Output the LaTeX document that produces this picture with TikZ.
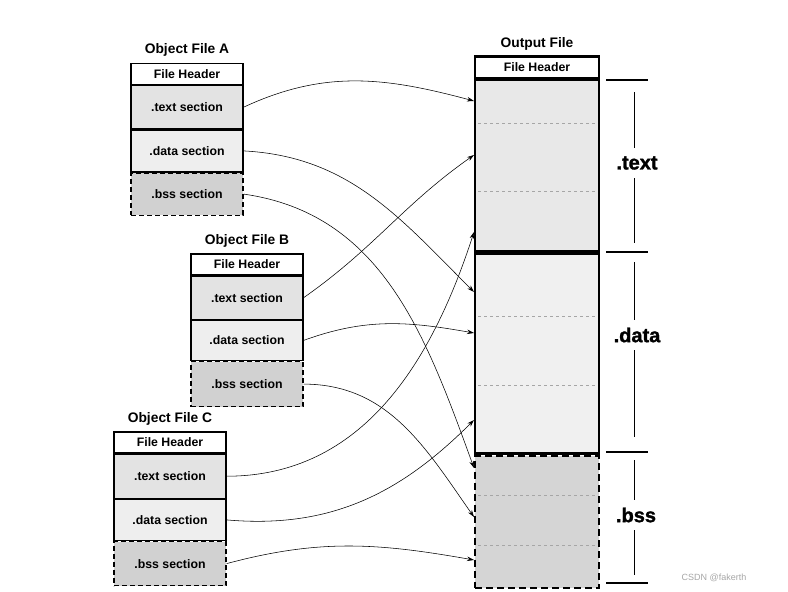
\documentclass[tikz,border=0pt]{standalone}
\usepackage{fontspec}
\setmainfont{Liberation Sans}
\newfontfamily\heavyfont[BoldFeatures={FakeBold=1.5}]{Liberation Sans}
\usetikzlibrary{positioning,arrows.meta}

\tikzset{
  hdr/.style={draw, line width=1.2pt, fill=white, minimum width=112pt, minimum height=21pt,
              inner sep=0pt, font=\bfseries\fontsize{12.3}{13}\selectfont},
  txt/.style={hdr, fill=gray!22, minimum height=43pt},
  dat/.style={hdr, fill=gray!13, minimum height=42pt},
  bss/.style={hdr, fill=gray!36, dash pattern=on 5pt off 3pt, minimum height=42pt},
  outbox/.style={hdr, line width=2.2pt, minimum width=124pt},
  ttl/.style={font=\bfseries\fontsize{13.8}{15}\selectfont},
  big/.style={fill=white, inner xsep=1pt, inner ysep=8pt, font=\heavyfont\bfseries\fontsize{20}{22}\selectfont},
  sep/.style={gray!70, dashed, thin},
  link/.style={-{Stealth[length=7pt, width=4.5pt]}, line width=0.55pt},
}

\begin{document}
\begin{tikzpicture}[x=1pt,y=-1pt]
    \useasboundingbox (0,0) rectangle (788,592);

    % object file A
    \node[hdr] (A-h) at (187,74) {File Header};
    \node[txt, below=0pt of A-h] (A-t) {.text section};
    \node[dat, below=0pt of A-t] (A-d) {.data section};
    \node[bss, below=0pt of A-d] (A-b) {.bss section};
    \node[ttl, above=3pt of A-h] (A) {Object File A};

    % object file B
    \node[hdr] (B-h) at (247,264.5) {File Header};
    \node[txt, below=0pt of B-h] (B-t) {.text section};
    \node[dat, below=0pt of B-t, minimum height=40pt] (B-d) {.data section};
    \node[bss, below=0pt of B-d, minimum height=45pt] (B-b) {.bss section};
    \node[ttl, above=3pt of B-h] (B) {Object File B};

    % object file C
    \node[hdr] (C-h) at (170,442.5) {File Header};
    \node[txt, below=0pt of C-h, minimum height=44pt] (C-t) {.text section};
    \node[dat, below=0pt of C-t, minimum height=41pt] (C-d) {.data section};
    \node[bss, below=0pt of C-d, minimum height=44pt] (C-b) {.bss section};
    \node[ttl, above=3pt of C-h] (C) {Object File C};

    % output file
    \node[outbox] (O-h) at (537,67.5) {File Header};
    \node[outbox, below=0pt of O-h, fill=gray!18, minimum height=171pt] (O-t) {};
    \node[outbox, below=0pt of O-t, fill=gray!12, minimum height=200pt] (O-d) {};
    \node[outbox, below=0pt of O-d, fill=gray!33, minimum height=132pt,
          dash pattern=on 7pt off 4pt] (O-b) {};
    \node[ttl, above=2pt of O-h] (O) {Output File};
    \draw[outbox, fill=none] (O-h.north west) -- (O-h.north east);

    \draw[sep] (478,123) -- (597,123);
    \draw[sep] (478,191) -- (597,191);
    \draw[sep] (478,316) -- (597,316);
    \draw[sep] (478,385) -- (597,385);
    \draw[sep] (478,495) -- (597,495);
    \draw[sep] (478,545) -- (597,545);

    % brackets
    \draw[line width=1.3pt] (606,80) -- (648,80);
    \draw[line width=1.3pt] (606,252) -- (648,252);
    \draw[line width=1.3pt] (606,452) -- (648,452);
    \draw[line width=1.3pt] (606,583) -- (648,583);
    \draw[line width=0.9pt] (634,92) -- (634,243);
    \draw[line width=0.9pt] (634,262) -- (634,437);
    \draw[line width=0.9pt] (634,460) -- (634,575);
    \node[big] (L-t) at (637,163) {.text};
    \node[big] (L-d) at (637,335) {.data};
    \node[big] (L-b) at (636,515) {.bss};

    % arrow ends
    \coordinate (e1) at (474,101);
    \coordinate (e2) at (474,155);
    \coordinate (e3) at (474,232);
    \coordinate (e4) at (474,292);
    \coordinate (e5) at (474,333);
    \coordinate (e6) at (474,420);
    \coordinate (e7) at (474,468);
    \coordinate (e8) at (474,517);
    \coordinate (e9) at (474,560);

    \draw[link] (A-t.east) to[out=25, in=165] (e1);
    \draw[link] (A-d.east) to[out=-3, in=135] (e4);
    \draw[link] (A-b.east) to[out=-8, in=110] (e7);
    \draw[link] (B-t.east) to[out=35, in=-145] (e2);
    \draw[link] (B-d.east) to[out=20, in=170] (e5);
    \draw[link] (B-b.east) to[out=0, in=125] (e8);
    \draw[link] (C-t.east) to[out=0, in=-108] (e3);
    \draw[link] (C-d.east) to[out=-5, in=-135] (e6);
    \draw[link] (C-b.east) to[out=15, in=170] (e9);

    \node[text=gray!70, font=\fontsize{9}{10}\selectfont] (mark) at (714,578) {CSDN @fakerth};
\end{tikzpicture}
\end{document}
